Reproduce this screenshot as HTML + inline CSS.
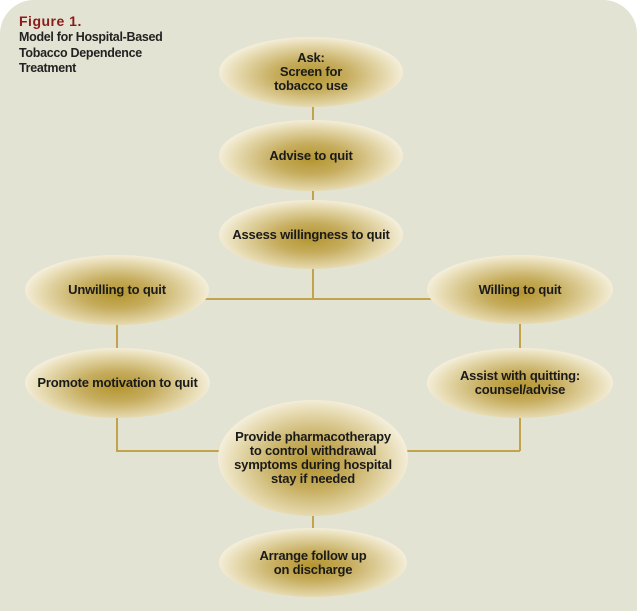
<!DOCTYPE html>
<html><head><style>
html,body{margin:0;padding:0;background:#fff;}
body{width:637px;height:611px;position:relative;overflow:hidden;font-family:"Liberation Sans",Arial,sans-serif;}
.bg{position:absolute;left:0;top:0;width:637px;height:611px;background:#e3e3d3;border-radius:34px 34px 0 0;}
.title{position:absolute;left:19px;top:13px;font-weight:bold;color:#8b1a1a;font-size:14px;letter-spacing:0.5px;}
.sub{position:absolute;left:19px;top:30px;font-weight:bold;color:#222;font-size:12.5px;line-height:15.5px;letter-spacing:-0.3px;}
.e{position:absolute;border-radius:50%;background:radial-gradient(ellipse at 50% 55%,#b3952f 0%,#c6ad5e 28%,#e6dab0 58%,#fbf8ee 78%,#fff 90%,rgba(255,255,255,0.5) 100%);display:flex;align-items:center;justify-content:center;text-align:center;font-weight:bold;font-size:13px;line-height:14px;color:#1a1a1a;letter-spacing:-0.2px;}
.l{position:absolute;background:#c2a24a;}
</style></head><body>
<div class="bg"></div>
<div class="title">Figure 1.</div>
<div class="sub">Model for Hospital-Based<br>Tobacco Dependence<br>Treatment</div>
<div class="l" style="left:312px;top:100px;width:1.5px;height:199px"></div>
<div class="l" style="left:312px;top:500px;width:1.5px;height:40px"></div>
<div class="l" style="left:200px;top:298px;width:235px;height:1.5px"></div>
<div class="l" style="left:116px;top:320px;width:1.5px;height:131px"></div>
<div class="l" style="left:116px;top:450px;width:110px;height:1.5px"></div>
<div class="l" style="left:519px;top:320px;width:1.5px;height:131px"></div>
<div class="l" style="left:400px;top:450px;width:120px;height:1.5px"></div>
<div class="e" style="left:219px;top:37px;width:184px;height:70px">Ask:<br>Screen for<br>tobacco use</div>
<div class="e" style="left:219px;top:120px;width:184px;height:71px">Advise to quit</div>
<div class="e" style="left:219px;top:200px;width:184px;height:69px">Assess willingness to quit</div>
<div class="e" style="left:25px;top:255px;width:184px;height:70px">Unwilling to quit</div>
<div class="e" style="left:427px;top:255px;width:186px;height:69px">Willing to quit</div>
<div class="e" style="left:25px;top:348px;width:185px;height:70px">Promote motivation to quit</div>
<div class="e" style="left:427px;top:348px;width:186px;height:70px">Assist with quitting:<br>counsel/advise</div>
<div class="e" style="left:218px;top:400px;width:190px;height:116px">Provide pharmacotherapy<br>to control withdrawal<br>symptoms during hospital<br>stay if needed</div>
<div class="e" style="left:219px;top:528px;width:188px;height:69px">Arrange follow up<br>on discharge</div>
</body></html>
